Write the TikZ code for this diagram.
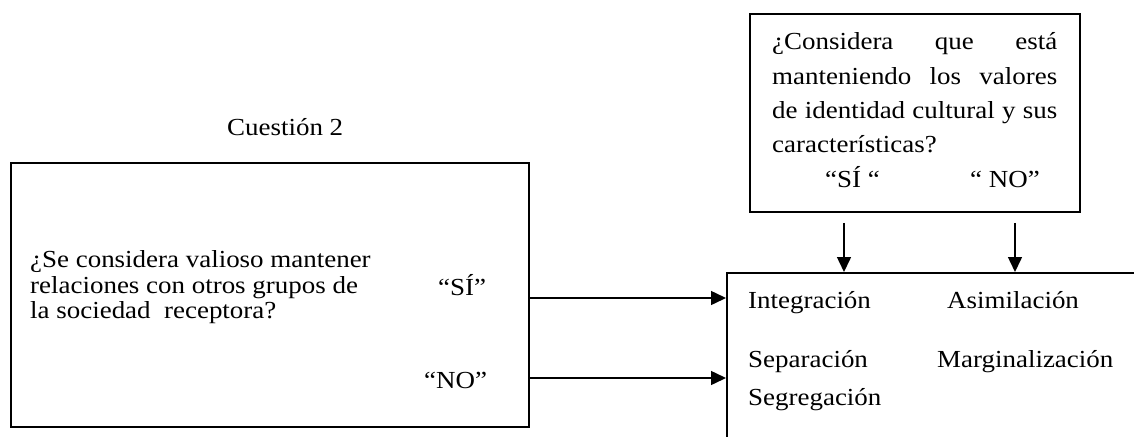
\documentclass[tikz,border=0pt]{standalone}
\usepackage{fontspec}
\setmainfont{Liberation Serif}[FakeStretch=1.1]
\usetikzlibrary{arrows.meta}
\begin{document}
\begin{tikzpicture}[x=1pt,y=-1pt,
  box/.style={draw,line width=1.8pt,rectangle,inner sep=0pt},
  txt/.style={anchor=base west,inner sep=0pt,font=\fontsize{24.5}{28}\selectfont},
  arr/.style={line width=1.5pt,-{Triangle[length=15pt,width=14pt]}}]
\useasboundingbox (0,0) rectangle (1134,436);
\clip (0,0) rectangle (1134,436);
% boxes
\node[box,minimum width=518pt,minimum height=264pt] (q2) at (270,295) {};
\node[box,minimum width=330pt,minimum height=198pt] (q1) at (915,113) {};
\node[box,anchor=north west,minimum width=440pt,minimum height=200pt] (res) at (726,272) {};
% title
\node[txt] (title) at (227,135) {Cuestión 2};
% left question
\node[txt] (l1) at (30,267) {¿Se considera valioso mantener};
\node[txt] (l2) at (30,293) {relaciones con otros grupos de};
\node[txt] (l3) at (30,318) {la sociedad\ \ receptora?};
\node[txt] (si) at (438,295) {“SÍ”};
\node[txt] (no) at (424,388) {“NO”};
% top question
\node[txt] (t1) at (772,50) {\makebox[285pt][s]{¿Considera que está}};
\node[txt] (t2) at (772,84) {\makebox[285pt][s]{manteniendo los valores}};
\node[txt] (t3) at (772,118) {\makebox[285pt][s]{de identidad cultural y sus}};
\node[txt] (t4) at (772,152) {características?};
\node[txt] (tsi) at (825,187) {“SÍ “};
\node[txt] (tno) at (970,187) {“ NO”};
% results
\node[txt] (int) at (748,308) {Integración};
\node[txt] (asi) at (947,308) {Asimilación};
\node[txt] (sep) at (748,367) {Separación};
\node[txt] (mar) at (937,367) {Marginalización};
\node[txt] (seg) at (748,405) {Segregación};
% connectors
\coordinate (ysi) at (0,298);
\coordinate (yno) at (0,378);
\coordinate (xa) at (844,0);
\coordinate (xb) at (1015,0);
\draw[arr] (q2.east |- ysi) -- (res.west |- ysi);
\draw[arr] (q2.east |- yno) -- (res.west |- yno);
\draw[arr] ([yshift=-10pt]q1.south -| xa) -- (res.north -| xa);
\draw[arr] ([yshift=-10pt]q1.south -| xb) -- (res.north -| xb);
\end{tikzpicture}
\end{document}
